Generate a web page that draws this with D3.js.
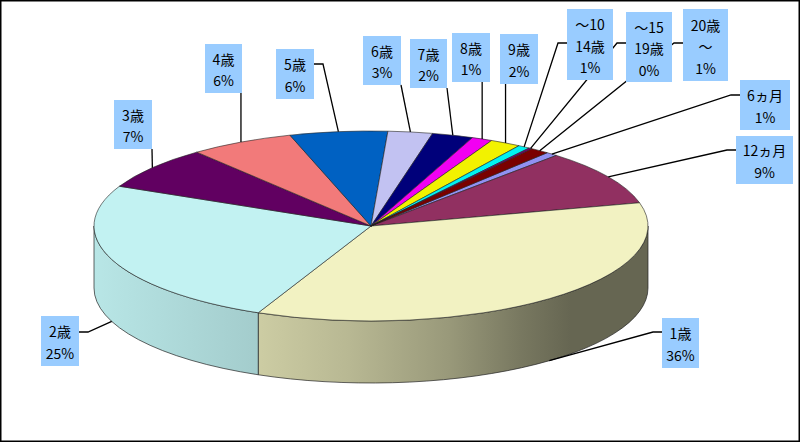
<!DOCTYPE html>
<html>
<head>
<meta charset="utf-8">
<script src="https://cdn.jsdelivr.net/npm/d3@7"></script>
<style>
body { margin: 0; background: #fff; }
svg text { font-family: "Noto Sans CJK JP", "Noto Sans", sans-serif; font-size: 14px; fill: #000; }
</style>
</head>
<body>
<div id="chart"></div>
<script>
// slice order is the sheet order, clockwise from the first slice angle
var categories = ["6ヵ月", "12ヵ月", "1歳", "2歳", "3歳", "4歳", "5歳", "6歳", "7歳", "8歳", "9歳",
                  "～10 14歳", "～15 19歳", "20歳 ～"];
var values = [0.7, 9.4, 35.6, 25.2, 7.3, 6.1, 5.7, 2.6, 2.4, 1.2, 1.8, 0.7, 0.2, 1.1];
var colors = ["#9999FF", "#993366", "#FFFFCC", "#CCFFFF", "#660066", "#FF8080", "#0066CC",
              "#CCCCFF", "#000080", "#FF00FF", "#FFFF00", "#00FFFF", "#800080", "#800000"];
var firstSliceAngle = 39.5; // degrees

// label boxes: x, y, w, h, side the leader comes in from, y of the leader stub
var labelBoxes = [
    [740, 80, 50, 50, "L", 95],
    [736, 136, 57, 48, "L", 150],
    [662, 318, 37, 50, "L", 332],
    [41, 316, 38, 50, "R", 332],
    [114, 100, 38, 49, null],
    [205, 44, 37, 49, null],
    [276, 49, 38, 50, "R", 64],
    [363, 36, 38, 49, null],
    [410, 39, 37, 49, null],
    [452, 33, 38, 49, null],
    [500, 34, 38, 50, null],
    [567, 9, 46, 71, "L", 43],
    [626, 12, 46, 70, "L", 43],
    [683, 9, 45, 72, "L", 43]
];

var W = 801, H = 443;
var cx = 371, cy = 226, rx = 277, ry = 95, depth = 62;

function pt(a, dz) {
    return [cx + rx * Math.sin(a), cy - ry * Math.cos(a) + (dz || 0)];
}

function shade(c, f) {
    var r = d3.rgb(c);
    return d3.rgb(r.r * f, r.g * f, r.b * f).formatHex();
}

// brightness of the side wall, left to right across the pie
var sideLight = [[0, 0.90], [0.30, 0.80], [0.46, 0.72], [0.64, 0.60], [0.77, 0.47], [0.86, 0.40], [1, 0.40]];

function main() {
    var svg = d3.select("#chart").append("svg")
        .attr("width", W).attr("height", H);

    var total = d3.sum(values);
    var pie = d3.pie().sort(null).value(function(d) { return d; })
        .startAngle(firstSliceAngle * Math.PI / 180)
        .endAngle(firstSliceAngle * Math.PI / 180 + 2 * Math.PI);
    var arcs = pie(values);

    var defs = svg.append("defs");
    arcs.forEach(function(d, i) {
        var g = defs.append("linearGradient")
            .attr("id", "side" + i)
            .attr("gradientUnits", "userSpaceOnUse")
            .attr("x1", cx - rx).attr("x2", cx + rx)
            .attr("y1", 0).attr("y2", 0);
        sideLight.forEach(function(s) {
            g.append("stop").attr("offset", s[0]).attr("stop-color", shade(colors[i], s[1]));
        });
    });

    // side walls, only the front half shows
    var sides = svg.append("g");
    arcs.forEach(function(d, i) {
        var s = Math.max(d.startAngle, Math.PI / 2);
        var e = Math.min(d.endAngle, 3 * Math.PI / 2);
        if (s >= e) return;
        var large = (e - s > Math.PI) ? 1 : 0;
        var p = "M" + pt(s) + "A" + rx + "," + ry + " 0 " + large + " 1 " + pt(e)
            + "L" + pt(e, depth) + "A" + rx + "," + ry + " 0 " + large + " 0 " + pt(s, depth) + "Z";
        sides.append("path").attr("d", p)
            .attr("fill", "url(#side" + i + ")")
            .attr("stroke", "#222").attr("stroke-width", 0.7);
    });

    // top faces
    var tops = svg.append("g");
    tops.selectAll("path").data(arcs).enter().append("path")
        .attr("d", function(d) {
            var large = (d.endAngle - d.startAngle > Math.PI) ? 1 : 0;
            return "M" + cx + "," + cy + "L" + pt(d.startAngle) + "A" + rx + "," + ry
                + " 0 " + large + " 1 " + pt(d.endAngle) + "Z";
        })
        .attr("fill", function(d, i) { return shade(colors[i], 0.95); })
        .attr("stroke", "#222").attr("stroke-width", 0.6)
        .attr("stroke-linejoin", "round");

    // leader lines
    var leaders = svg.append("g");
    arcs.forEach(function(d, i) {
        var mid = (d.startAngle + d.endAngle) / 2;
        var front = Math.cos(mid) < 0;
        var a = pt(mid, front ? depth : 0);
        var b = labelBoxes[i];
        var pts = [a];
        if (b[4] == "L") {
            pts.push([b[0] - 9, b[5]], [b[0], b[5]]);
        } else if (b[4] == "R") {
            pts.push([b[0] + b[2] + 9, b[5]], [b[0] + b[2], b[5]]);
        } else {
            pts.push([Math.max(b[0], Math.min(b[0] + b[2], a[0])), Math.max(b[1], Math.min(b[1] + b[3], a[1]))]);
        }
        leaders.append("path")
            .attr("d", d3.line()(pts))
            .attr("fill", "none")
            .attr("stroke", "#000").attr("stroke-width", 1.3);
    });

    // label boxes
    var labels = svg.append("g");
    arcs.forEach(function(d, i) {
        var b = labelBoxes[i];
        var lines = categories[i].split(" ");
        lines.push(Math.round(d.value / total * 100) + "%");
        labels.append("rect")
            .attr("x", b[0]).attr("y", b[1]).attr("width", b[2]).attr("height", b[3])
            .attr("fill", "#99CCFF");
        lines.forEach(function(t, j) {
            labels.append("text")
                .attr("x", b[0] + b[2] / 2)
                .attr("y", b[1] + b[3] / 2 + 1 + (j - (lines.length - 1) / 2) * 21.5)
                .attr("text-anchor", "middle")
                .attr("dominant-baseline", "central")
                .text(t);
        });
    });

    // chart area border
    svg.append("rect")
        .attr("x", 0.75).attr("y", 0.75).attr("width", W - 2.5).attr("height", H - 2.5)
        .attr("fill", "none").attr("stroke", "#000").attr("stroke-width", 1.5);
}

main();
</script>
</body>
</html>
